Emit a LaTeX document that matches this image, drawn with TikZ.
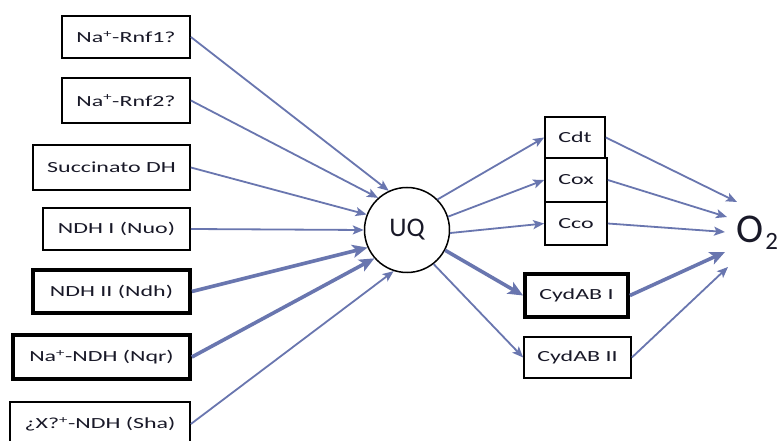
\documentclass[tikz,border=0pt]{standalone}
\usepackage{fontspec}
\setmainfont{Carlito}
\newfontfamily\boxfont[FakeStretch=1.55]{Carlito}
\usetikzlibrary{arrows.meta,calc}
\definecolor{arr}{RGB}{105,118,175}
\definecolor{txt}{RGB}{25,25,40}
\begin{document}
\begin{tikzpicture}[x=1bp,y=-1bp,
  box/.style={draw=black, line width=1.7bp, inner sep=0pt, text=txt,
    font=\boxfont\fontsize{15.5}{17}\selectfont},
  thickbox/.style={box, line width=3.8bp},
  arrow/.style={draw=arr, line width=1.8bp,
    -{Stealth[length=11bp,width=9bp,inset=2.5bp]}},
  thickarrow/.style={draw=arr, line width=3.6bp,
    -{Stealth[length=15bp,width=13bp,inset=3.5bp]}},
]
\useasboundingbox (0,0) rectangle (783,441);
\fill[white] (0,0) rectangle (783,441);

% left boxes
\node[box, minimum width=128bp, minimum height=42bp] (rnf1) at (126,37) {Na\textsuperscript{+}-Rnf1?};
\node[box, minimum width=128bp, minimum height=45bp] (rnf2) at (126,100.5) {Na\textsuperscript{+}-Rnf2?};
\node[box, minimum width=157bp, minimum height=45bp] (sdh) at (111.5,167.5) {Succinato DH};
\node[box, minimum width=147bp, minimum height=42bp] (nuo) at (116.5,229) {NDH I (Nuo)};
\node[thickbox, minimum width=157bp, minimum height=43bp] (ndh) at (111.5,291.5) {NDH II (Ndh)};
\node[thickbox, minimum width=177bp, minimum height=44bp] (nqr) at (101.5,357) {Na\textsuperscript{+}-NDH (Nqr)};
\node[box, minimum width=180bp, minimum height=44bp] (sha) at (100,424) {¿X?\textsuperscript{+}-NDH (Sha)};

% UQ
\node[circle, draw=black, line width=1.5bp, minimum size=85bp, inner sep=0pt,
  text=txt, font=\fontsize{27}{28}\selectfont] (uq) at (407,230) {UQ};

% right boxes
\node[box, minimum width=60bp, minimum height=41bp] (cdt) at (575,137.5) {Cdt};
\node[box, minimum width=62bp, minimum height=44bp] (cox) at (576,180) {Cox};
\node[box, minimum width=62bp, minimum height=43bp] (cco) at (576,223.5) {Cco};
\node[thickbox, minimum width=103bp, minimum height=43bp] (cyd1) at (576.5,295.5) {CydAB I};
\node[box, minimum width=107bp, minimum height=41bp] (cyd2) at (577.5,357.5) {CydAB II};

% O2
\node[anchor=base west, inner sep=0pt, text=txt] (o2) at (736,243)
  {\fontsize{41}{41}\selectfont O\hspace{2bp}\raisebox{-7bp}{\fontsize{25}{25}\selectfont 2}};
\coordinate (o2a) at (737,202);
\coordinate (o2b) at (727,217);
\coordinate (o2c) at (725,232);
\coordinate (o2d) at (725,252);
\coordinate (o2e) at (728,267);

% arrows into UQ
\draw[arrow] (rnf1.east) -- (uq.115);
\draw[arrow] (rnf2.east) -- (uq.132);
\draw[arrow] (sdh.east) -- (uq.159);
\draw[arrow] (nuo.east) -- (uq.180);
\draw[thickarrow] (ndh.east) -- (uq.204);
\draw[thickarrow] (nqr.east) -- (uq.221);
\draw[arrow] (sha.east) -- (uq.252);

% arrows out of UQ
\draw[arrow] (uq.45) -- (cdt.west);
\draw[arrow] (uq.18) -- (cox.west);
\draw[arrow] (uq.-4) -- (cco.west);
\draw[thickarrow] (uq.-28) -- (cyd1.west);
\draw[arrow] (uq.-52) -- (cyd2.west);

% arrows to O2
\draw[arrow] (cdt.east) -- (o2a);
\draw[arrow] (cox.east) -- (o2b);
\draw[arrow] (cco.east) -- (o2c);
\draw[thickarrow] (cyd1.east) -- (o2d);
\draw[arrow] (cyd2.east) -- (o2e);
\end{tikzpicture}
\end{document}
